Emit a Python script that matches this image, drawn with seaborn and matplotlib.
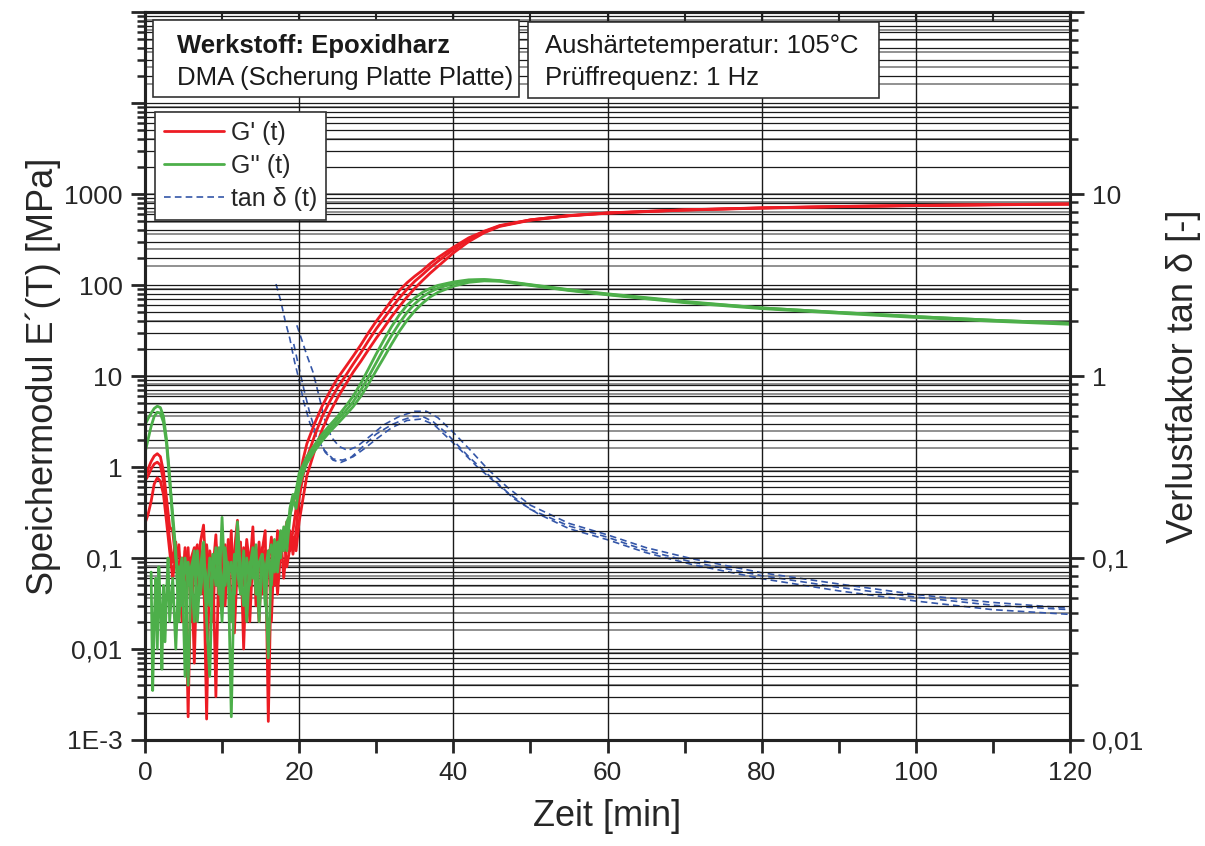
import numpy as np
import pandas as pd
import matplotlib
matplotlib.use("Agg")
import matplotlib.pyplot as plt
import seaborn as sns
from matplotlib.lines import Line2D
from matplotlib.patches import Rectangle
from matplotlib.ticker import FixedLocator, FixedFormatter, LogLocator, NullFormatter, MultipleLocator

# ---------------- data ----------------
t_early = [0.0, 0.4, 0.8, 1.2, 1.6, 2.0, 2.4, 2.8, 3.2]
t_noise = [3.6, 4.0, 4.4, 4.8, 5.2, 5.6, 6.0, 6.4, 6.8, 7.2, 7.6, 8.0, 8.4, 8.8, 9.2, 9.6,
           10.0, 10.4, 10.8, 11.2, 11.6, 12.0, 12.4, 12.8, 13.2, 13.6, 14.0, 14.4, 14.8,
           15.2, 15.6, 16.0, 16.4, 16.8, 17.2, 17.6, 18.0, 18.4, 18.8, 19.2]
t_rise = [19.6, 20, 20.5, 21, 22, 23, 24, 25, 26, 27, 28, 29, 30, 31, 32, 33, 34, 35, 36,
          37, 38, 40, 42, 44, 46, 50, 55, 60, 70, 80, 90, 100, 110, 120]

# G' (storage modulus), three runs
gs_early_a = [0.78, 0.95, 1.15, 1.32, 1.4, 1.3, 0.9, 0.45, 0.22]
gs_early_b = [0.7, 0.8, 0.95, 1.08, 1.13, 1.05, 0.7, 0.35, 0.16]
gs_early_c = [0.24, 0.3, 0.42, 0.65, 0.76, 0.7, 0.5, 0.25, 0.12]
gs_noise_a = [0.2, 0.09, 0.14, 0.04, 0.12, 0.0018, 0.1, 0.13, 0.03, 0.15, 0.23, 0.05, 0.11, 0.02,
              0.14, 0.06, 0.12, 0.03, 0.16, 0.08, 0.12, 0.26, 0.04, 0.13, 0.07, 0.02, 0.11, 0.06,
              0.15, 0.04, 0.12, 0.08, 0.17, 0.05, 0.2, 0.1, 0.16, 0.25, 0.12, 0.2]
gs_noise_b = [0.09, 0.15, 0.03, 0.1, 0.06, 0.13, 0.02, 0.11, 0.14, 0.04, 0.09, 0.0017, 0.12, 0.07,
              0.18, 0.03, 0.1, 0.14, 0.05, 0.2, 0.015, 0.09, 0.13, 0.05, 0.16, 0.08, 0.22, 0.03,
              0.1, 0.13, 0.06, 0.12, 0.02, 0.15, 0.09, 0.19, 0.06, 0.14, 0.2, 0.11]
gs_noise_c = [0.06, 0.11, 0.08, 0.02, 0.13, 0.05, 0.1, 0.007, 0.12, 0.09, 0.04, 0.14, 0.06, 0.1,
              0.003, 0.12, 0.05, 0.09, 0.13, 0.02, 0.1, 0.06, 0.15, 0.01, 0.11, 0.04, 0.13, 0.08,
              0.02, 0.12, 0.2, 0.0016, 0.09, 0.14, 0.04, 0.12, 0.18, 0.08, 0.13, 0.17]
gs_rise_a = [0.35, 0.7, 1.2, 1.8, 3.0, 4.7, 6.8, 9.5, 12.5, 16.5, 22, 30, 40, 52, 68, 87, 106,
             125, 145, 172, 200, 260, 330, 390, 450, 520, 580, 620, 670, 705, 730, 750, 765, 780]
gs_rise_b = [0.2, 0.45, 0.8, 1.25, 2.2, 3.6, 5.3, 7.5, 10, 13.5, 18, 24.5, 33, 43, 56, 72, 90,
             110, 130, 155, 182, 245, 320, 385, 445, 520, 578, 618, 668, 703, 728, 748, 763, 776]
gs_rise_c = [0.12, 0.25, 0.45, 0.8, 1.5, 2.6, 4.0, 5.8, 8, 11, 14.5, 19.5, 26, 34, 45, 58, 74,
             92, 112, 135, 160, 225, 300, 375, 440, 515, 575, 615, 665, 700, 725, 745, 760, 772]

# G'' (loss modulus), three runs
gl_early_a = [2.9, 3.4, 3.9, 4.4, 4.66, 4.5, 3.6, 2.0, 0.8]
gl_early_b = [1.42, 2.0, 2.8, 3.6, 4.0, 3.9, 3.1, 1.8, 0.7]
t_early_c = [0.8, 1.0, 1.2, 1.4, 1.6, 1.8, 2.0, 2.2, 2.4, 2.6, 2.8, 3.0, 3.2]
gl_early_c = [0.07, 0.0035, 0.02, 0.06, 0.01, 0.08, 0.03, 0.006, 0.05, 0.012, 0.04, 0.1, 0.02]
gl_noise_a = [0.25, 0.1, 0.06, 0.1, 0.005, 0.09, 0.04, 0.12, 0.02, 0.08, 0.15, 0.03, 0.1, 0.06,
              0.13, 0.04, 0.28, 0.05, 0.09, 0.02, 0.11, 0.07, 0.04, 0.12, 0.03, 0.09, 0.06, 0.14,
              0.02, 0.1, 0.07, 0.12, 0.05, 0.16, 0.09, 0.2, 0.12, 0.25, 0.3, 0.4]
gl_noise_b = [0.3, 0.12, 0.02, 0.09, 0.05, 0.004, 0.08, 0.11, 0.03, 0.07, 0.1, 0.02, 0.005, 0.09,
              0.06, 0.13, 0.04, 0.1, 0.07, 0.0018, 0.08, 0.12, 0.05, 0.1, 0.02, 0.08, 0.13, 0.04,
              0.09, 0.11, 0.03, 0.1, 0.14, 0.07, 0.15, 0.1, 0.22, 0.15, 0.35, 0.5]
gl_noise_c = [0.06, 0.01, 0.08, 0.03, 0.1, 0.05, 0.07, 0.02, 0.12, 0.04, 0.09, 0.06, 0.03, 0.11,
              0.05, 0.08, 0.02, 0.13, 0.06, 0.09, 0.04, 0.25, 0.07, 0.03, 0.1, 0.05, 0.12, 0.08,
              0.03, 0.11, 0.06, 0.008, 0.09, 0.13, 0.07, 0.16, 0.2, 0.12, 0.28, 0.45]
gl_rise_a = [0.55, 0.85, 1.05, 1.3, 1.75, 2.3, 2.9, 3.6, 4.6, 6, 8.3, 12, 17.5, 25, 35, 47, 60,
             72, 83, 92, 99, 108, 114, 115, 112, 101, 89, 80, 66, 56, 50, 45, 41, 38]
gl_rise_b = [0.45, 0.7, 0.95, 1.2, 1.6, 2.1, 2.65, 3.3, 4.1, 5.2, 7, 9.8, 14, 20, 28, 38, 50,
             62, 74, 84, 92, 104, 112, 114, 111, 100, 88, 79, 65, 56, 50, 45, 41, 38]
gl_rise_c = [0.35, 0.6, 0.85, 1.1, 1.5, 1.95, 2.45, 3.0, 3.7, 4.6, 6, 8.2, 11.5, 16, 22.5, 31,
             41, 52, 63, 74, 83, 97, 107, 111, 110, 99, 87, 78, 64, 55, 49, 44, 40, 37]

# tan delta, three runs
td_t_a = [17.0, 17.6, 18.2, 18.8, 19.4, 20.0, 20.6, 21.4, 22.4, 23.4, 24.4, 25.4, 26.5, 28, 30,
          32, 33.5, 34.8, 36, 37.4, 39, 40.5, 42, 44.4, 47, 50, 55, 60, 65, 71, 80, 90, 100, 110, 120]
td_a = [3.2, 2.6, 2.0, 1.6, 1.2, 0.95, 0.72, 0.55, 0.45, 0.38, 0.345, 0.335, 0.35, 0.4, 0.48,
        0.54, 0.575, 0.6, 0.6, 0.56, 0.49, 0.42, 0.36, 0.29, 0.23, 0.185, 0.15, 0.13, 0.11,
        0.095, 0.08, 0.069, 0.061, 0.055, 0.052]
td_t_b = [19.7, 20.3, 21.0, 21.8, 22.5, 23.3, 24.2, 25.2, 26.3, 27.5, 29, 31, 33, 35, 36.5, 38,
          40, 42, 44.4, 47, 50, 55, 60, 65, 71, 80, 90, 100, 110, 120]
td_b = [1.9, 1.6, 1.3, 1.05, 0.8, 0.58, 0.46, 0.41, 0.39, 0.41, 0.46, 0.54, 0.6, 0.64, 0.64,
        0.59, 0.49, 0.4, 0.31, 0.245, 0.195, 0.155, 0.134, 0.114, 0.099, 0.083, 0.072, 0.063,
        0.057, 0.053]
td_t_c = [19.3, 19.9, 20.6, 21.4, 22.3, 23.3, 24.4, 25.6, 27, 28.5, 30, 32, 34, 35.8, 37.5, 39,
          41, 43, 45, 48, 51, 55, 60, 65, 71, 80, 90, 100, 110, 120]
td_c = [1.5, 1.15, 0.85, 0.62, 0.47, 0.39, 0.35, 0.345, 0.36, 0.4, 0.45, 0.52, 0.57, 0.58, 0.54,
        0.47, 0.39, 0.32, 0.27, 0.21, 0.175, 0.145, 0.126, 0.107, 0.092, 0.077, 0.066, 0.058,
        0.052, 0.049]

left_ticks = [1e-3, 1e-2, 1e-1, 1, 10, 100, 1000, 1e4, 1e5]
left_labels = ["1E-3", "0,01", "0,1", "1", "10", "100", "1000", "", ""]
right_ticks = [0.01, 0.1, 1, 10, 100]
right_labels = ["0,01", "0,1", "1", "10", ""]
x_ticks = [0, 20, 40, 60, 80, 100, 120]

legend_labels = ["G' (t)", "G'' (t)", "tan \u03b4 (t)"]
box1_lines = ["Werkstoff: Epoxidharz", "DMA (Scherung Platte Platte)"]
box2_lines = ["Aush\u00e4rtetemperatur: 105\u00b0C", "Pr\u00fcffrequenz: 1 Hz"]
xlabel = "Zeit [min]"
ylabel_left = "Speichermodul E\u00b4(T) [MPa]"
ylabel_right = "Verlustfaktor tan \u03b4 [-]"

# ---------------- tables ----------------
def run_frame(parts, run):
    t = np.concatenate([np.asarray(p[0], float) for p in parts])
    v = np.concatenate([np.asarray(p[1], float) for p in parts])
    return pd.DataFrame({"t": t, "v": v, "run": run})

df_gs = pd.concat([
    run_frame([(t_early, gs_early_a), (t_noise, gs_noise_a), (t_rise, gs_rise_a)], "a"),
    run_frame([(t_early, gs_early_b), (t_noise, gs_noise_b), (t_rise, gs_rise_b)], "b"),
    run_frame([(t_early, gs_early_c), (t_noise, gs_noise_c), (t_rise, gs_rise_c)], "c"),
])
df_gl = pd.concat([
    run_frame([(t_early, gl_early_a), (t_noise, gl_noise_a), (t_rise, gl_rise_a)], "a"),
    run_frame([(t_early, gl_early_b), (t_noise, gl_noise_b), (t_rise, gl_rise_b)], "b"),
    run_frame([(t_early_c, gl_early_c), (t_noise, gl_noise_c), (t_rise, gl_rise_c)], "c"),
])
df_td = pd.concat([
    run_frame([(td_t_a, td_a)], "a"),
    run_frame([(td_t_b, td_b)], "b"),
    run_frame([(td_t_c, td_c)], "c"),
])

# ---------------- style ----------------
sns.set_style("ticks")
plt.rcParams["font.family"] = ["Liberation Sans", "DejaVu Sans"]
plt.rcParams["axes.unicode_minus"] = False

RED = "#ed1c24"
GREEN = "#4daf4a"
BLUE = "#3456a8"
FS_TICK = 19
FS_LABEL = 26
FS_BOX = 18.5

fig = plt.figure(figsize=(12.05, 8.46), dpi=100)
ax = fig.add_axes([0.1203, 0.1253, 0.7677, 0.8605])
ax2 = ax.twinx()
ax.set_zorder(ax2.get_zorder() + 1)
ax.patch.set_visible(False)

# right axis: tan delta (drawn behind)
ax2.set_yscale("log")
ax2.set_ylim(0.01, 100)
sns.lineplot(data=df_td, x="t", y="v", units="run", estimator=None, sort=False,
             color=BLUE, lw=1.2, ls=(0, (4, 2.5)), ax=ax2, legend=False)
ax2.yaxis.set_major_locator(FixedLocator(right_ticks))
ax2.yaxis.set_major_formatter(FixedFormatter(right_labels))
ax2.yaxis.set_minor_locator(LogLocator(base=10, subs=np.arange(2, 10)))
ax2.yaxis.set_minor_formatter(NullFormatter())
ax2.grid(True, which="both", axis="y", color="#909090", lw=1.4)
ax2.tick_params(axis="y", which="major", direction="out", length=10, width=2, labelsize=FS_TICK, pad=6)
ax2.tick_params(axis="y", which="minor", direction="out", length=6, width=1.8)
ax2.set_ylabel(ylabel_right, fontsize=FS_LABEL, labelpad=16)

# left axis: G', G''
ax.set_yscale("log")
sns.lineplot(data=df_gs, x="t", y="v", units="run", estimator=None, sort=False,
             color=RED, lw=2.0, ax=ax, legend=False)
sns.lineplot(data=df_gl, x="t", y="v", units="run", estimator=None, sort=False,
             color=GREEN, lw=2.0, ax=ax, legend=False)
ax.set_xlim(0, 120)
ax.set_ylim(1e-3, 1e5)
ax.yaxis.set_major_locator(FixedLocator(left_ticks))
ax.yaxis.set_major_formatter(FixedFormatter(left_labels))
ax.yaxis.set_minor_locator(LogLocator(base=10, subs=np.arange(2, 10)))
ax.yaxis.set_minor_formatter(NullFormatter())
ax.xaxis.set_major_locator(FixedLocator(x_ticks))
ax.xaxis.set_minor_locator(MultipleLocator(10))
ax.grid(True, which="both", axis="y", color="#1a1a1a", lw=0.9)
ax.grid(True, which="major", axis="x", color="#1a1a1a", lw=1.0)
ax.tick_params(axis="y", which="major", direction="out", length=10, width=2, labelsize=FS_TICK, pad=6)
ax.tick_params(axis="y", which="minor", direction="out", length=6, width=1.8)
ax.tick_params(axis="x", which="major", direction="out", length=9, width=2, labelsize=FS_TICK, pad=6)
ax.tick_params(axis="x", which="minor", direction="out", length=9, width=2)
ax.set_xlabel(xlabel, fontsize=FS_LABEL, labelpad=10)
ax.set_ylabel(ylabel_left, fontsize=FS_LABEL, labelpad=2)

for a in (ax, ax2):
    for s in a.spines.values():
        s.set_linewidth(2.2)
        s.set_color("#222222")

# top ticks pointing inward
top = ax.secondary_xaxis("top")
top.xaxis.set_major_locator(FixedLocator(x_ticks))
top.xaxis.set_minor_locator(MultipleLocator(10))
top.tick_params(axis="x", which="both", direction="in", length=7, width=1.5, labeltop=False)

# text boxes
def text_box(x0, y0, x1, y1, lines, tx, ty, weights):
    ax.add_patch(Rectangle((x0, y0), x1 - x0, y1 - y0, transform=ax.transAxes,
                           facecolor="white", edgecolor="#333333", lw=1.2, zorder=5))
    for line, yy, w in zip(lines, ty, weights):
        ax.text(tx, yy, line, transform=ax.transAxes, fontsize=FS_BOX, fontweight=w,
                va="center", ha="left", color="#1a1a1a", zorder=6)

text_box(0.0086, 0.883, 0.404, 0.989, box1_lines, 0.0346, [0.954, 0.909], ["bold", "normal"])
text_box(0.414, 0.882, 0.7935, 0.986, box2_lines, 0.4324, [0.954, 0.909], ["normal", "normal"])

handles = [Line2D([], [], color=RED, lw=2.0),
           Line2D([], [], color=GREEN, lw=2.0),
           Line2D([], [], color=BLUE, lw=1.2, ls=(0, (4, 2.5)))]
leg = ax.legend(handles, legend_labels, loc="upper left", bbox_to_anchor=(0.0108, 0.8626),
                borderaxespad=0, fontsize=18, frameon=True, fancybox=False, framealpha=1,
                edgecolor="#333333", handlelength=2.4, handletextpad=0.3, labelspacing=0.36,
                borderpad=0.35)
leg.get_frame().set_linewidth(1.2)
leg.set_zorder(7)

fig.savefig("out.png", dpi=100)
